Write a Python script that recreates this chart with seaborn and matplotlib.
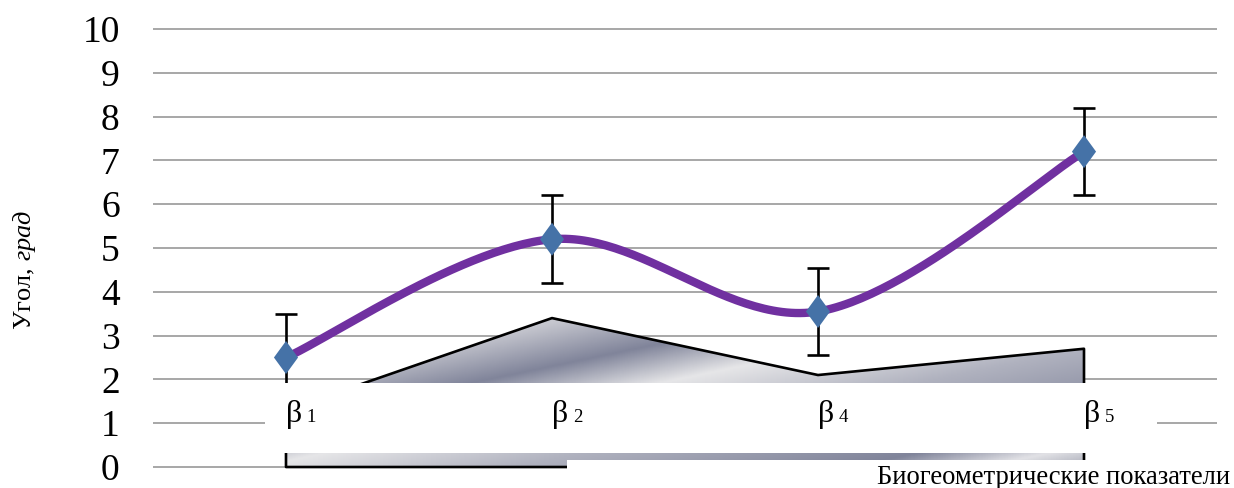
import numpy as np
import matplotlib
matplotlib.use("Agg")
import matplotlib.pyplot as plt
import seaborn as sns
import pandas as pd
from matplotlib.colors import LinearSegmentedColormap
from matplotlib.patches import Rectangle
from matplotlib.path import Path

# ---------------- data ----------------
categories = ["β1", "β2", "β4", "β5"]
angle_mean = [2.5, 5.2, 3.55, 7.2]
angle_err = [1.0, 1.0, 1.0, 1.0]
area_values = [1.3, 3.4, 2.1, 2.7]
y_ticks = [0, 1, 2, 3, 4, 5, 6, 7, 8, 9, 10]
y_label_main = "Угол, "
y_label_unit = "град"
x_label = "Биогеометрические показатели"

# ---------------- style ----------------
sns.set_theme(style="white")
plt.rcParams["font.family"] = ["Liberation Serif", "DejaVu Serif"]
plt.rcParams["mathtext.fontset"] = "custom"
plt.rcParams["mathtext.rm"] = "Liberation Serif"
plt.rcParams["mathtext.it"] = "Liberation Serif:italic"
plt.rcParams["text.color"] = "black"
plt.rcParams["axes.labelcolor"] = "black"
plt.rcParams["ytick.color"] = "black"
plt.rcParams["xtick.color"] = "black"

W, H = 1234, 488
fig = plt.figure(figsize=(W / 100, H / 100), dpi=100)
ax = fig.add_axes([153 / W, (H - 471.4) / H, 1064 / W, 446.8 / H])

x = np.arange(len(categories))
df = pd.DataFrame({"cat": categories, "x": x, "mean": angle_mean,
                   "err": angle_err, "area": area_values})

# ---------------- gradient area ----------------
ax.set_xlim(-0.5, 3.5)
ax.set_ylim(-0.1, 10.1)
fig.canvas.draw()
p0 = ax.transData.transform((0, 0))
p1 = ax.transData.transform((1, 1))
sx, sy = p1 - p0
gx = np.linspace(-0.5, 3.5, 800)
gy = np.linspace(0, 4.0, 300)
GX, GY = np.meshgrid(gx, gy)
S = sx * GX - 4.8 * sy * GY
stops = [(-600, "#c9cad1"), (-428, "#c6c7cf"), (-217, "#80849a"),
         (-28, "#e6e6e8"), (229, "#b0b2bf"), (569, "#80849a"),
         (700, "#e2e2e6"), (772, "#b8bac4"), (850, "#b8bac4")]
vmin, vmax = stops[0][0], stops[-1][0]
cmap = LinearSegmentedColormap.from_list(
    "grad", [((s - vmin) / (vmax - vmin), c) for s, c in stops])

poly = ax.fill_between(df["x"], df["area"], 0, facecolor="none",
                       edgecolor="black", linewidth=1.9, zorder=2.2,
                       clip_on=False)
im = ax.imshow(S, extent=(-0.5, 3.5, 0, 4.0), origin="lower", cmap=cmap,
               vmin=vmin, vmax=vmax, aspect="auto", zorder=2,
               interpolation="bilinear")
im.set_clip_path(poly.get_paths()[0], ax.transData)

# ---------------- error bars ----------------
ax.errorbar(df["x"], df["mean"], yerr=df["err"], fmt="none", ecolor="black",
            elinewidth=1.9, capsize=8, capthick=1.9, zorder=2.5)

# ---------------- white cover boxes ----------------
ax.add_patch(Rectangle((-0.079, 0.32), 3.353, 1.60, facecolor="white",
                       edgecolor="none", zorder=3))
ax.add_patch(Rectangle((1.056, -0.8), 3.0, 0.96, facecolor="white",
                       edgecolor="none", zorder=3, clip_on=False))

# ---------------- smoothed line ----------------
P = np.column_stack([df["x"].to_numpy(float), df["mean"].to_numpy(float)])
n = len(P)
cx, cy = [], []
t = np.linspace(0, 1, 60)
for i in range(n - 1):
    pm = P[max(i - 1, 0)]
    pp = P[min(i + 2, n - 1)]
    b0, b3 = P[i], P[i + 1]
    b1 = b0 + (b3 - pm) / 6.0
    b2 = b3 - (pp - b0) / 6.0
    tt = t if i == 0 else t[1:]
    seg = ((1 - tt) ** 3)[:, None] * b0 + (3 * (1 - tt) ** 2 * tt)[:, None] * b1 \
        + (3 * (1 - tt) * tt ** 2)[:, None] * b2 + (tt ** 3)[:, None] * b3
    cx.extend(seg[:, 0])
    cy.extend(seg[:, 1])
sns.lineplot(x=cx, y=cy, color="#7030a0", linewidth=6.0, ax=ax, sort=False,
             estimator=None, zorder=4)

# ---------------- markers ----------------
diamond = Path([(0, 1), (0.73, 0), (0, -1), (-0.73, 0), (0, 1)])
sns.scatterplot(data=df, x="x", y="mean", marker=diamond, s=566,
                color="#4572a7", edgecolor="none", linewidth=0, ax=ax,
                zorder=5)

# ---------------- category labels ----------------
for i, cat in enumerate(categories):
    ax.text(i, 1.03, cat[0], fontsize=23, ha="left", va="baseline",
            color="black", zorder=6)
    ax.annotate(cat[1:], xy=(i, 1.03), xytext=(15, 0),
                textcoords="offset points", fontsize=13.5, ha="left",
                va="baseline", color="black", zorder=6)

# ---------------- axes styling ----------------
ax.set_xlim(-0.5, 3.5)
ax.set_ylim(-0.1, 10.1)
ax.set_yticks(y_ticks)
ax.set_yticklabels([str(v) for v in y_ticks])
ax.tick_params(axis="y", length=0, pad=24, labelsize=27, labelcolor="black")
ax.set_xticks([])
ax.set_xlabel("")
for sp in ax.spines.values():
    sp.set_visible(False)
ax.yaxis.grid(True, color="#a0a0a0", linewidth=1.3)
ax.set_axisbelow(True)

ax.set_ylabel(y_label_main + r"$\mathit{" + y_label_unit + "}$", fontsize=19,
              color="black")
ax.yaxis.set_label_coords(-0.108, 0.4508)

fig.text(1230 / W, 4 / H, x_label, ha="right", va="baseline", fontsize=19.2,
         color="black")

fig.savefig("out.png", dpi=100)
